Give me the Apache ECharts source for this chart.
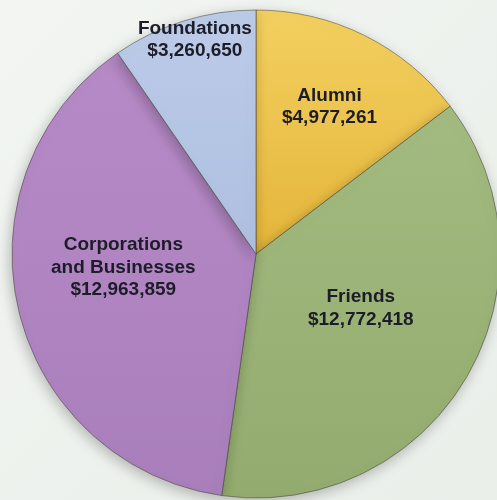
<!DOCTYPE html>
<html><head><meta charset="utf-8">
<script src="https://cdn.jsdelivr.net/npm/echarts@6/dist/echarts.min.js"></script>
<style>html,body{margin:0;padding:0;background:#eef2ee;}#c{width:497px;height:500px;}</style>
</head><body><div id="c"></div>
<script>
const categories = ['Alumni', 'Friends', 'Corporations\nand Businesses', 'Foundations'];
const values = [4977261, 12772418, 12963859, 3260650];
const colors = [
  ['#f3d060', '#e4b53a'],
  ['#a3bb80', '#93ab6e'],
  ['#b68ac6', '#a97fbb'],
  ['#bccbe8', '#aebfe0']
];
const labelOffsets = [[18, -35], [-3, -9], [-11, -15], [-24, -95]];

const chart = echarts.init(document.getElementById('c'));
const fmt = v => '$' + v.toLocaleString('en-US');
chart.setOption({
  backgroundColor: {
    type: 'linear', x: 0, y: 0, x2: 1, y2: 1,
    colorStops: [{offset: 0, color: '#f2f5f1'}, {offset: 1, color: '#eaefea'}]
  },
  animation: false,
  series: [{
    type: 'pie',
    center: [256, 254],
    radius: 244,
    startAngle: 90,
    clockwise: true,
    avoidLabelOverlap: false,
    itemStyle: {
      borderColor: 'rgba(70,70,60,0.55)',
      borderWidth: 1,
      shadowBlur: 14,
      shadowColor: 'rgba(0,0,0,0.25)',
      shadowOffsetX: -2,
      shadowOffsetY: 4
    },
    label: {
      show: true,
      position: 'inside',
      color: '#1d1d2a',
      fontWeight: 'bold',
      fontSize: 19,
      lineHeight: 22.5,
      fontFamily: 'Liberation Sans, Arial, sans-serif',
      formatter: p => p.name + '\n' + fmt(p.value)
    },
    labelLine: {show: false},
    emphasis: {disabled: true},
    data: categories.map((c, i) => ({
      name: c,
      value: values[i],
      itemStyle: {
        color: {
          type: 'linear', x: 0, y: 0, x2: 0, y2: 1,
          colorStops: [{offset: 0, color: colors[i][0]}, {offset: 1, color: colors[i][1]}]
        }
      },
      label: {offset: labelOffsets[i]}
    }))
  }]
});
</script></body></html>
